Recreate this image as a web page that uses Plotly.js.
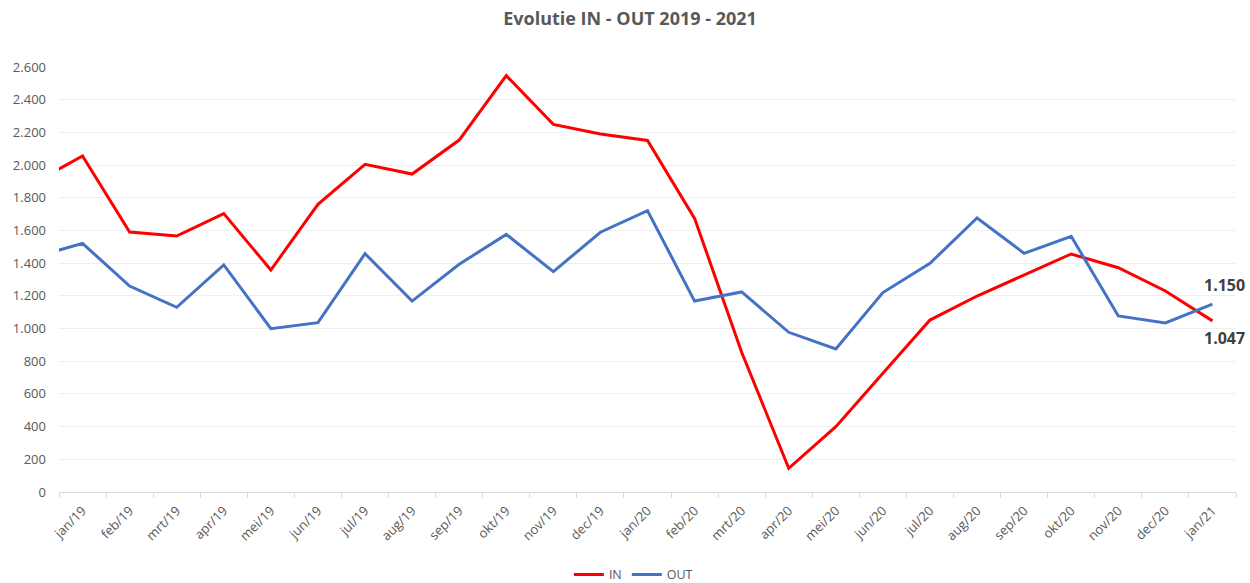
<!DOCTYPE html>
<html>
<head>
<meta charset="utf-8">
<script src="https://cdn.plot.ly/plotly-3.0.1.min.js"></script>
<style>html,body{margin:0;padding:0;background:#fff;}#chart{width:1250px;height:583px;}</style>
</head>
<body>
<div id="chart"></div>
<script>
// Month labels (the first one, dec/18, lies just outside the visible axis range)
const categories = ["dec/18","jan/19","feb/19","mrt/19","apr/19","mei/19","jun/19","jul/19","aug/19","sep/19","okt/19","nov/19","dec/19",
  "jan/20","feb/20","mrt/20","apr/20","mei/20","jun/20","jul/20","aug/20","sep/20","okt/20","nov/20","dec/20","jan/21"];
const valuesIN  = [1895,2056,1590,1566,1703,1358,1760,2005,1945,2153,2547,2249,2190,2151,1674,855,145,400,726,1052,1199,1328,1456,1372,1230,1047];
const valuesOUT = [1438,1521,1260,1130,1389,999,1036,1458,1168,1393,1576,1348,1589,1721,1168,1224,977,875,1220,1399,1676,1460,1564,1077,1034,1150];
const yTicks = [0,200,400,600,800,1000,1200,1400,1600,1800,2000,2200,2400,2600];

const idx = categories.map((c,i)=>i-1);
const visIdx = idx.slice(1);
const visLabels = categories.slice(1);

function fmt(v){ return String(v).replace(/\B(?=(\d{3})+(?!\d))/g,'.'); }

const font = "Open Sans, Liberation Sans, sans-serif";
const traces = [
  {x: idx, y: valuesIN, name: 'IN', type: 'scatter', mode: 'lines', line: {color: '#ff0000', width: 3}, cliponaxis: true},
  {x: idx, y: valuesOUT, name: 'OUT', type: 'scatter', mode: 'lines', line: {color: '#4472c4', width: 3}, cliponaxis: true}
];
const last = valuesIN.length - 1;
const layout = {
  width: 1250, height: 583,
  paper_bgcolor: '#ffffff', plot_bgcolor: '#ffffff',
  separators: ',.',
  font: {family: font, color: '#595959', size: 12},
  title: {text: '<b>Evolutie IN - OUT 2019 - 2021</b>', x: 0.504, xanchor: 'center', y: 0.968, yanchor: 'middle',
          font: {family: font, size: 18, color: '#595959'}},
  margin: {l: 59, r: 14, t: 67, b: 91, autoexpand: false},
  showlegend: true,
  legend: {orientation: 'h', x: 0.488, xanchor: 'center', yref: 'container', y: 0.014, yanchor: 'middle',
           font: {family: font, size: 12.5, color: '#595959'}, itemwidth: 30, tracegroupgap: 0},
  xaxis: {
    type: 'linear', range: [-0.5, visIdx.length - 0.5], automargin: false,
    tickmode: 'array', tickvals: visIdx, ticktext: visLabels, tickangle: -45,
    ticks: '', showgrid: false, zeroline: false,
    showline: true, linecolor: '#d9d9d9', linewidth: 1,
    tickfont: {family: font, size: 13, color: '#595959'}, ticklabelstandoff: 5,
    minor: {tick0: -0.5, dtick: 1, ticks: 'outside', ticklen: 5, tickcolor: '#d9d9d9', tickwidth: 1, showgrid: false},
    fixedrange: true
  },
  yaxis: {
    range: [0, 2600], tickmode: 'array', tickvals: yTicks, tickformat: ',d', automargin: false,
    showgrid: true, gridcolor: '#efefef', gridwidth: 1, zeroline: false,
    showline: false, ticks: '', ticklabelstandoff: 12,
    tickfont: {family: font, size: 13, color: '#595959'},
    fixedrange: true
  },
  annotations: [
    {x: idx[last], y: valuesOUT[last], xref: 'x', yref: 'y', text: '<b>' + fmt(valuesOUT[last]) + '</b>',
     showarrow: false, xanchor: 'left', yanchor: 'middle', xshift: -10, yshift: 19,
     font: {family: font, size: 16, color: '#404040'}},
    {x: idx[last], y: valuesIN[last], xref: 'x', yref: 'y', text: '<b>' + fmt(valuesIN[last]) + '</b>',
     showarrow: false, xanchor: 'left', yanchor: 'middle', xshift: -10, yshift: -17,
     font: {family: font, size: 16, color: '#404040'}}
  ]
};
Plotly.newPlot('chart', traces, layout, {displayModeBar: false, staticPlot: true});
</script>
</body>
</html>
